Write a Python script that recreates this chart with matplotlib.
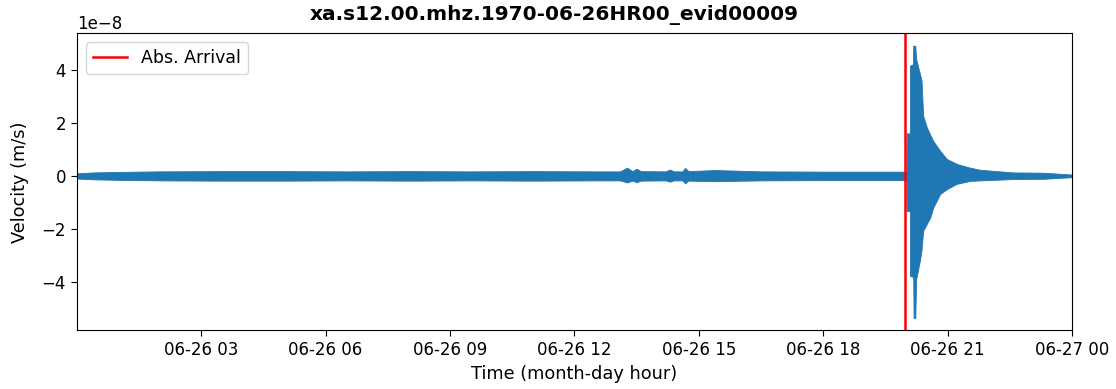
import numpy as np
import pandas as pd
import matplotlib
matplotlib.use('Agg')
import matplotlib.pyplot as plt
import matplotlib.dates as mdates

# Envelope of the trace (hours after 1970-06-26 00:00, units of 1e-8 m/s)
hours = [0.005, 0.4, 1.0, 2.0, 3.5, 5.0, 6.5, 8.0, 9.5, 11.0, 12.5, 13.1, 13.27, 13.4,
         13.5, 13.6, 14.2, 14.3, 14.4, 14.6, 14.67, 14.75, 15.39, 16.5, 18.0, 19.0, 19.99,
         20.010, 20.013, 20.090, 20.093, 20.165, 20.17, 20.18, 20.22, 20.24, 20.33, 20.37,
         20.41, 20.50, 20.58, 20.65, 20.82, 20.98, 21.22, 21.54, 21.78, 22.58, 23.3, 24.0]
upper = [0.10, 0.13, 0.15, 0.17, 0.18, 0.18, 0.17, 0.18, 0.17, 0.18, 0.17, 0.17, 0.31, 0.18,
         0.27, 0.18, 0.17, 0.24, 0.17, 0.17, 0.30, 0.18, 0.22, 0.17, 0.16, 0.16, 0.16,
         0.16, 1.6, 1.6, 4.15, 4.2, 4.9, 4.9, 4.9, 4.4, 3.85, 3.6,
         2.26, 1.82, 1.55, 1.32, 0.94, 0.64, 0.45, 0.31, 0.23, 0.13, 0.12, 0.05]
lower = [-0.10, -0.13, -0.15, -0.17, -0.18, -0.18, -0.17, -0.18, -0.17, -0.18, -0.17, -0.17, -0.25, -0.18,
         -0.24, -0.18, -0.17, -0.22, -0.17, -0.17, -0.28, -0.18, -0.20, -0.17, -0.16, -0.16, -0.16,
         -0.16, -1.32, -1.32, -3.77, -3.8, -3.8, -5.35, -5.35, -3.9, -3.2, -2.8,
         -2.07, -1.8, -1.57, -1.2, -0.68, -0.5, -0.3, -0.19, -0.17, -0.12, -0.11, -0.05]
arrival_hour = 19.98

plt.rcParams['font.size'] = 12.5
plt.rcParams['xtick.labelsize'] = 12
plt.rcParams['ytick.labelsize'] = 12
plt.rcParams['xtick.major.size'] = 4.4
plt.rcParams['ytick.major.size'] = 4.4

start = pd.Timestamp('1970-06-26 00:00:00')
times = start + pd.to_timedelta(hours, unit='h')
arrival = start + pd.to_timedelta(arrival_hour, unit='h')

fig = plt.figure(figsize=(11.16, 3.89), dpi=100)
ax = fig.add_axes([0.069, 0.151, 0.8916, 0.763])

ax.fill_between(times, np.array(lower) * 1e-8, np.array(upper) * 1e-8,
                color='#1f77b4', linewidth=0.6)
ax.axvline(arrival, color='red', linewidth=1.8, label='Abs. Arrival')

ax.set_xlim(times[0], times[-1])
ax.set_ylim(-5.81e-8, 5.36e-8)
ax.xaxis.set_major_locator(mdates.HourLocator(byhour=range(0, 24, 3)))
ax.xaxis.set_major_formatter(mdates.DateFormatter('%m-%d %H'))
ax.set_yticks([-4e-8, -2e-8, 0, 2e-8, 4e-8])

fig.suptitle('xa.s12.00.mhz.1970-06-26HR00_evid00009', x=0.4964, y=0.988,
             fontweight='bold', fontsize=14.5, va='top')
ax.set_xlabel('Time (month-day hour)', fontsize=12.8)
ax.set_ylabel('Velocity (m/s)', fontsize=12.8, labelpad=9)
ax.legend(loc='upper left', fontsize=12.5)

fig.savefig('out.png', dpi=100)
